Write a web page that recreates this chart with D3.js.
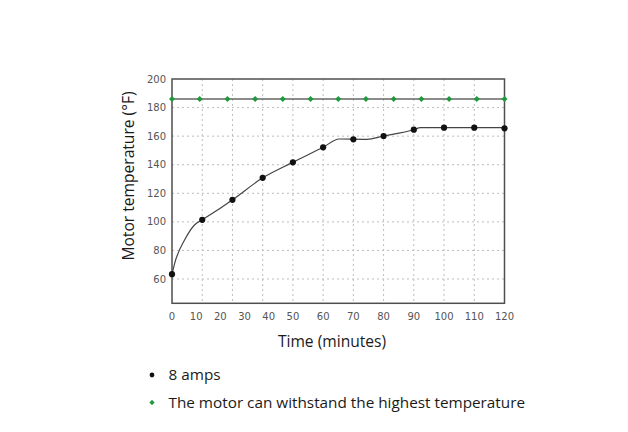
<!DOCTYPE html>
<html>
<head>
<meta charset="utf-8">
<script src="https://cdn.jsdelivr.net/npm/d3@7"></script>
<style>
  body { margin: 0; background: #fff; }
  svg { display: block; }
</style>
</head>
<body>
<div id="chart"></div>
<script>
// readings of the 8 amp run (minutes / degrees F)
var times = [0, 12.5, 25, 37.5, 50, 60, 70, 80, 90, 100, 110, 120];
var temps = [63.4, 101.4, 115.4, 130.8, 141.7, 152.2, 157.8, 160.1, 164.5, 165.9, 165.9, 165.5];
// the trace drawn under the dots
var traceTimes = [0, 1.1, 5.3, 9.4, 12.5, 21, 25, 37.5, 50, 60, 65.3, 74.4, 80, 90, 92.2, 120];
var traceTemps = [63.4, 71, 87.6, 98, 101.4, 110.7, 115.4, 130.8, 141.7, 152.2, 158, 157.8, 160.1, 164.5, 165.9, 165.9];
// highest temperature the motor can withstand, one marker per step
var limitTemps = [186, 186, 186, 186, 186, 186, 186, 186, 186, 186, 186, 186, 186];
var xTicks = [0, 10, 20, 30, 40, 50, 60, 70, 80, 90, 100, 110, 120];
var yTicks = [60, 80, 100, 120, 140, 160, 180, 200];
var legendLabels = ["8 amps", "The motor can withstand the highest temperature"];

var W = 628, H = 432;
var margin = {top: 79, left: 172, right: 123.5, bottom: 128.7};
var width = W - margin.left - margin.right,
    height = H - margin.top - margin.bottom;

var svg = d3.select("#chart").append("svg")
    .attr("width", W)
    .attr("height", H);

var g = svg.append("g")
    .attr("transform", "translate(" + margin.left + "," + margin.top + ")");

// the time axis of the original is squeezed before 50 min
var x = d3.scaleLinear()
    .domain([0, 50, 120])
    .range([0, width * 4 / 11, width]);
var y = d3.scaleLinear()
    .domain([43, 200])
    .range([height, 0]);
var xLimit = d3.scalePoint()
    .domain(d3.range(limitTemps.length))
    .range([0, width]);

// grid
g.selectAll(".hgrid")
    .data(yTicks.filter(function(d){ return d < 200; }))
    .enter().append("line")
    .attr("x1", 0).attr("x2", width)
    .attr("y1", function(d){ return y(d); })
    .attr("y2", function(d){ return y(d); })
    .style("stroke", "#bdbdbd")
    .style("stroke-dasharray", "2,3");
g.selectAll(".vgrid")
    .data(times.slice(1, -1))
    .enter().append("line")
    .attr("y1", 0).attr("y2", height)
    .attr("x1", function(d){ return x(d); })
    .attr("x2", function(d){ return x(d); })
    .style("stroke", "#bdbdbd")
    .style("stroke-dasharray", "2,3");

// frame
g.append("rect")
    .attr("width", width)
    .attr("height", height)
    .style("fill", "none")
    .style("stroke", "#4f4f4f")
    .style("stroke-width", 1.5);

// tick labels
g.selectAll(".ylab")
    .data(yTicks)
    .enter().append("text")
    .attr("x", -6)
    .attr("y", function(d){ return y(d); })
    .attr("dy", "0.35em")
    .style("text-anchor", "end")
    .style("font", "10px 'DejaVu Sans'")
    .style("fill", "#555")
    .text(function(d){ return d; });
g.selectAll(".xlab")
    .data(xTicks)
    .enter().append("text")
    .attr("x", function(d){ return x(d); })
    .attr("y", height + 17)
    .style("text-anchor", "middle")
    .style("font", "10px 'DejaVu Sans'")
    .style("fill", "#555")
    .text(function(d){ return d; });

// limit line
var limitLine = d3.line()
    .x(function(d, i){ return xLimit(i); })
    .y(function(d){ return y(d); });
g.append("path")
    .datum(limitTemps)
    .attr("d", limitLine)
    .style("fill", "none")
    .style("stroke", "#666")
    .style("stroke-width", 1.5);
var diamond = d3.symbol().type(d3.symbolSquare).size(18);
g.selectAll(".limit")
    .data(limitTemps)
    .enter().append("path")
    .attr("d", diamond)
    .attr("transform", function(d, i){ return "translate(" + xLimit(i) + "," + y(d) + ") rotate(45)"; })
    .style("fill", "#1d9a3c");

// temperature trace
var trace = d3.line()
    .curve(d3.curveMonotoneX)
    .x(function(d){ return x(d[0]); })
    .y(function(d){ return y(d[1]); });
g.append("path")
    .datum(d3.zip(traceTimes, traceTemps))
    .attr("d", trace)
    .style("fill", "none")
    .style("stroke", "#444")
    .style("stroke-width", 1.2);
g.selectAll(".dot")
    .data(d3.zip(times, temps))
    .enter().append("circle")
    .attr("cx", function(d){ return x(d[0]); })
    .attr("cy", function(d){ return y(d[1]); })
    .attr("r", 3.1)
    .style("fill", "#111");

// axis titles
svg.append("text")
    .attr("transform", "translate(133.5,176) rotate(-90)")
    .style("text-anchor", "middle")
    .style("font", "15.6px 'Open Sans'")
    .style("fill", "#1a1a1a")
    .text("Motor temperature (°F)");
svg.append("text")
    .attr("x", 332)
    .attr("y", 347)
    .style("text-anchor", "middle")
    .style("font", "15.6px 'Open Sans'")
    .style("fill", "#1a1a1a")
    .text("Time (minutes)");

// legend
var legend = svg.selectAll(".legend")
    .data(legendLabels)
    .enter().append("g")
    .attr("transform", function(d, i){ return "translate(152," + (375 + i * 27.5) + ")"; });
legend.append("path")
    .attr("d", function(d, i){
        return i == 0 ? d3.symbol().type(d3.symbolCircle).size(18)() : d3.symbol().type(d3.symbolSquare).size(14)();
    })
    .attr("transform", function(d, i){ return i == 0 ? null : "rotate(45)"; })
    .style("fill", function(d, i){ return i == 0 ? "#111" : "#1d9a3c"; });
legend.append("text")
    .attr("x", 16.5)
    .attr("y", 5)
    .style("font", "15.3px 'Open Sans'")
    .style("fill", "#1a1a1a")
    .text(function(d){ return d; });
</script>
</body>
</html>
